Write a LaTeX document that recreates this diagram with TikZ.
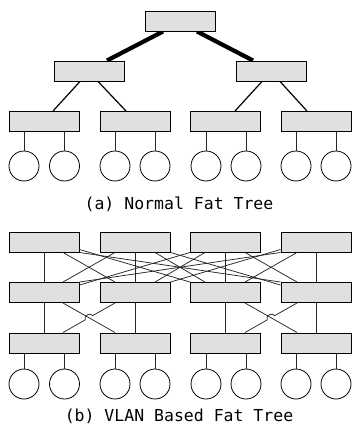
\documentclass[tikz,border=0pt]{standalone}
\usepackage{fontspec}
\setmainfont{DejaVu Sans Mono}
\usetikzlibrary{backgrounds}
\begin{document}
\begin{tikzpicture}[x=1pt,y=-1pt,
  sw/.style={draw=black,line width=0.95pt,fill=black!12,minimum width=70pt,minimum height=20pt,inner sep=0pt},
  host/.style={draw=black,line width=0.8pt,circle,minimum size=30pt,inner sep=0pt},
  fat/.style={line width=4.2pt},
  mid/.style={line width=1.2pt},
  thin/.style={line width=0.75pt,draw=black!85},
  captxt/.style={font=\fontsize{16.5}{19}\selectfont,inner sep=0pt,anchor=base}]
\useasboundingbox (0,0) rectangle (353,431);
% ---------- (a) normal fat tree ----------
\node[sw] (root) at (180,21) {};
\node[sw] (La) at (89.5,71) {};
\node[sw] (Lb) at (271,71) {};
\node[sw] (ea) at (44,121.5) {};
\node[sw] (eb) at (135,121.5) {};
\node[sw] (ec) at (225.5,121.5) {};
\node[sw] (ed) at (316,121.5) {};
\foreach \n/\x in {1/24,2/64.5,3/115,4/155,5/206,6/246,7/296,8/336}
  \node[host] (h\n) at (\x,166) {};
\begin{scope}[on background layer]
\draw[fat] ([xshift=-17pt]root.south) -- ([xshift=17.5pt]La.north);
\draw[fat] ([xshift=17pt]root.south) -- ([xshift=-18pt]Lb.north);
\draw[mid] ([xshift=-9.5pt]La.south) -- ([xshift=9pt]ea.north);
\draw[mid] ([xshift=8.5pt]La.south) -- ([xshift=-9pt]eb.north);
\draw[mid] ([xshift=-9pt]Lb.south) -- ([xshift=9.5pt]ec.north);
\draw[mid] ([xshift=9pt]Lb.south) -- ([xshift=-9pt]ed.north);
\end{scope}
\foreach \n/\e in {1/ea,2/ea,3/eb,4/eb,5/ec,6/ec,7/ed,8/ed}
  \draw[thin] (h\n.north |- \e.south) -- (h\n.north);
\node[captxt] (capa) at (179,209) {(a) Normal Fat Tree};
% ---------- (b) VLAN based fat tree ----------
\foreach \i/\x in {a/44,b/135,c/225.5,d/316}{
  \node[sw] (c\i) at (\x,242) {};
  \node[sw] (g\i) at (\x,292.5) {};
  \node[sw] (t\i) at (\x,343) {};
}
\foreach \n/\x in {1/24,2/64.5,3/115,4/155,5/206,6/246,7/296,8/336}
  \node[host] (k\n) at (\x,384) {};
\foreach \n/\e in {1/ta,2/ta,3/tb,4/tb,5/tc,6/tc,7/td,8/td}
  \draw[thin] (k\n.north |- \e.south) -- (k\n.north);
% core - aggregation
\foreach \i in {a,b,c,d}
  \draw[thin] (c\i.south) -- (g\i.north);
\draw[thin] ([xshift=19pt]ca.south) -- ([xshift=-20pt]gb.north);
\draw[thin] ([xshift=-20pt]cb.south) -- ([xshift=19pt]ga.north);
\draw[thin] ([xshift=19.5pt]cc.south) -- ([xshift=-19pt]gd.north);
\draw[thin] ([xshift=-19pt]cd.south) -- ([xshift=19.5pt]gc.north);
\draw[thin] (ca.south east) -- (gd.north west);
\draw[thin] (cd.south west) -- (ga.north east);
\draw[thin] ([yshift=3pt]ca.south east) -- (gc.north west);
\draw[thin] ([yshift=3pt]cd.south west) -- (gb.north east);
\draw[thin] ([xshift=20pt]cb.south) -- ([xshift=-20.5pt]gc.north);
\draw[thin] ([xshift=-20.5pt]cc.south) -- ([xshift=20pt]gb.north);
\draw[thin] (cb.south east) -- ([yshift=-3pt]gd.north west);
\draw[thin] (cc.south west) -- ([yshift=-3pt]ga.north east);
% aggregation - edge
\foreach \i in {a,b,c,d}
  \draw[thin] (g\i.south) -- (t\i.north);
\draw[thin] ([xshift=19pt]ga.south) -- ([xshift=-20pt]tb.north);
\path ([xshift=-20pt]gb.south) -- ([xshift=19pt]ta.north)
  coordinate[pos=0.43] (pa) coordinate[pos=0.57] (pb);
\draw[thin] ([xshift=-20pt]gb.south) -- (pa) to[bend right=90,looseness=1.4] (pb) -- ([xshift=19pt]ta.north);
\draw[thin] ([xshift=19.5pt]gc.south) -- ([xshift=-19pt]td.north);
\path ([xshift=-19pt]gd.south) -- ([xshift=19.5pt]tc.north)
  coordinate[pos=0.43] (qa) coordinate[pos=0.57] (qb);
\draw[thin] ([xshift=-19pt]gd.south) -- (qa) to[bend right=90,looseness=1.4] (qb) -- ([xshift=19.5pt]tc.north);
\node[captxt] (capb) at (179,421) {(b) VLAN Based Fat Tree};
\end{tikzpicture}
\end{document}
